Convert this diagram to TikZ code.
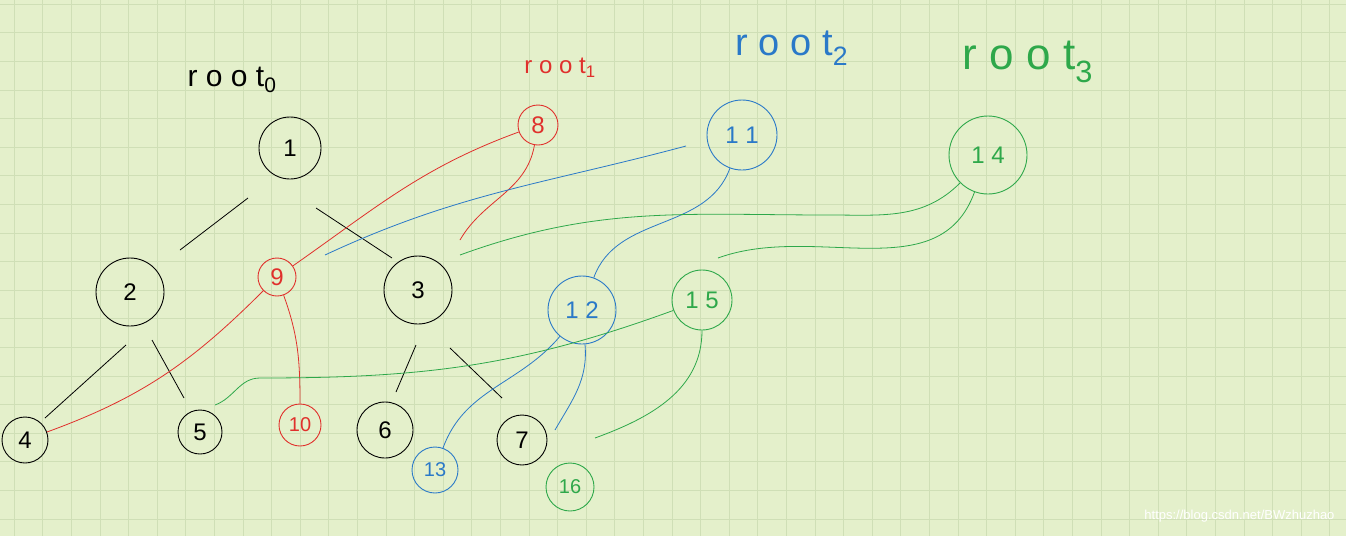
\documentclass[tikz,border=0pt]{standalone}
\usepackage{fontspec}
\setmainfont{Liberation Sans}
\begin{document}
\begin{tikzpicture}[x=1pt,y=-1pt,
  nd/.style={draw,circle,line width=0.9pt,minimum size=#1,inner sep=0pt,font=\fontsize{24}{24}\selectfont},
  nd/.default=52pt,
  ed/.style={line width=0.8pt},
  lbl/.style={font=\fontsize{30}{30}\selectfont}]
\definecolor{bg}{HTML}{E4F0CB}
\definecolor{gl}{HTML}{CFDFB6}
\definecolor{rr}{HTML}{E0302C}
\definecolor{bb}{HTML}{2A79C8}
\definecolor{gg}{HTML}{2EA84A}
\fill[bg] (0,0) rectangle (1346,536);
\useasboundingbox (0,0) rectangle (1346,536);
\foreach \i in {0,...,47} \draw[gl,line width=0.6pt] (\i*28.6+14,0) -- (\i*28.6+14,536);
\foreach \j in {0,...,19} \draw[gl,line width=0.6pt] (0,\j*28.6+4) -- (1346,\j*28.6+4);
% black tree
\node[nd=62pt] (n1) at (290,148) {1};
\node[nd=68pt] (n2) at (130,292) {2};
\node[nd=68pt] (n3) at (418,290) {3};
\node[nd=46pt] (n4) at (25,440) {4};
\node[nd=44pt] (n5) at (200,432) {5};
\node[nd=56pt] (n6) at (385,430) {6};
\node[nd=50pt] (n7) at (522,440) {7};
\draw[ed] (248,198) -- (180,250);
\draw[ed] (316,208) -- (392,258);
\draw[ed] (126,345) -- (45,418);
\draw[ed] (152,340) -- (184,398);
\draw[ed] (416,345) -- (396,392);
\draw[ed] (450,348) -- (502,398);
% red
\begin{scope}[rr]
\node[nd=40pt,text=rr] (n8) at (538,125) {8};
\node[nd=38pt,text=rr] (n9) at (277,277) {9};
\node[nd=42pt,text=rr,font=\fontsize{20}{20}\selectfont] (n10) at (300,425) {10};
\node[lbl,text=rr,font=\fontsize{24}{24}\selectfont] (r1) at (560,68) {r o o t\textsubscript{1}};
\draw[ed] (n8) to[out=200,in=35] (n9);
\draw[ed] (n8) to[out=260,in=60] (460,240);
\draw[ed] (n9) to[out=225,in=20] (n4);
\draw[ed] (n9) to[out=290,in=90] (n10);
\end{scope}
% blue
\begin{scope}[bb]
\node[nd=70pt,text=bb] (n11) at (742,135) {1 1};
\node[nd=68pt,text=bb] (n12) at (582,310) {1 2};
\node[nd=46pt,text=bb,font=\fontsize{20}{20}\selectfont] (n13) at (435,470) {13};
\node[lbl,text=bb,font=\fontsize{38}{38}\selectfont] (r2) at (792,48) {r o o t\textsubscript{2}};
\draw[ed] (686,146) to[out=195,in=25] (325,255);
\draw[ed] (n11) to[out=250,in=70] (n12);
\draw[ed] (n12) to[out=230,in=70] (n13);
\draw[ed] (n12) to[out=275,in=60] (555,430);
\end{scope}
% green
\begin{scope}[gg]
\node[nd=78pt,text=gg] (n14) at (988,155) {1 4};
\node[nd=60pt,text=gg] (n15) at (702,300) {1 5};
\node[nd=48pt,text=gg,font=\fontsize{20}{20}\selectfont] (n16) at (570,487) {16};
\node[lbl,text=gg,font=\fontsize{44}{44}\selectfont] (r3) at (1028,62) {r o o t\textsubscript{3}};
\draw[ed] (n14) to[out=225,in=0] (830,215) to[out=180,in=20] (460,255);
\draw[ed] (n14) to[out=250,in=20] (718,258);
\draw[ed] (n15) to[out=200,in=0] (260,378) to[out=180,in=20] (215,405);
\draw[ed] (n15) to[out=270,in=20] (595,438);
\end{scope}
\node[lbl] (r0) at (232,80) {r o o t\textsubscript{0}};
\node[white,font=\fontsize{13}{13}\selectfont,anchor=east] (wm) at (1338,516) {https://blog.csdn.net/BWzhuzhao};
\end{tikzpicture}
\end{document}
